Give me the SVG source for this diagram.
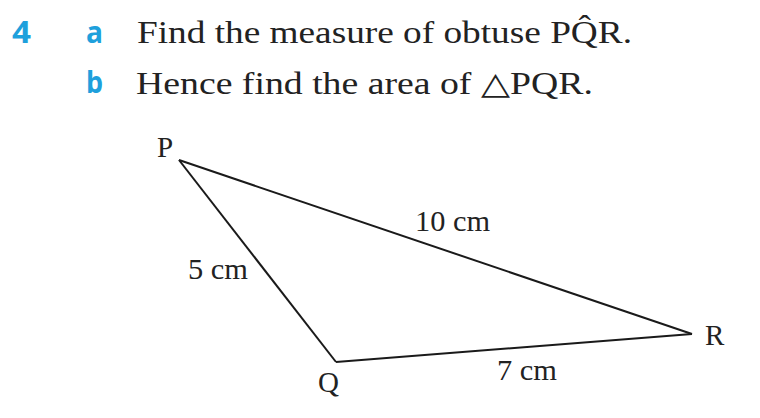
<svg xmlns="http://www.w3.org/2000/svg" width="760" height="418" viewBox="0 0 760 418">
<style>
.q{font-family:"Liberation Serif","Times New Roman",serif;font-size:31px;fill:#222}
.n{font-family:"Open Sans","Liberation Sans",sans-serif;font-weight:bold;font-size:30px;fill:#1ea0dc}
.l{font-family:"Liberation Serif","Times New Roman",serif;font-size:29px;fill:#222}
.e{fill:none;stroke:#1a1a1a;stroke-width:2;stroke-linejoin:miter}
</style>
<rect width="760" height="418" fill="#fff"/>
<g id="question">
<text class="n" x="12" y="43" textLength="19" lengthAdjust="spacingAndGlyphs">4</text>
<text class="n" x="86" y="43" textLength="17" lengthAdjust="spacingAndGlyphs">a</text>
<text class="q" x="137" y="43" textLength="495" lengthAdjust="spacingAndGlyphs">Find the measure of obtuse PQ̂R.</text>
<text class="n" x="86" y="93" textLength="17" lengthAdjust="spacingAndGlyphs">b</text>
<text class="q" x="136" y="94" textLength="457" lengthAdjust="spacingAndGlyphs">Hence find the area of △PQR.</text>
</g>
<g id="connectors">
<line class="e" x1="179" y1="160" x2="336" y2="362"/>
<line class="e" x1="336" y1="362" x2="692" y2="334"/>
<line class="e" x1="179" y1="160" x2="692" y2="334"/>
</g>
<g id="P"><text class="l" x="157" y="157">P</text></g>
<g id="Q"><text class="l" x="318" y="392">Q</text></g>
<g id="R"><text class="l" x="705" y="345">R</text></g>
<g id="side-PR"><text class="l" x="415" y="231" textLength="75" lengthAdjust="spacingAndGlyphs">10 cm</text></g>
<g id="side-PQ"><text class="l" x="188" y="279" textLength="60" lengthAdjust="spacingAndGlyphs">5 cm</text></g>
<g id="side-QR"><text class="l" x="497" y="380" textLength="60" lengthAdjust="spacingAndGlyphs">7 cm</text></g>
</svg>
